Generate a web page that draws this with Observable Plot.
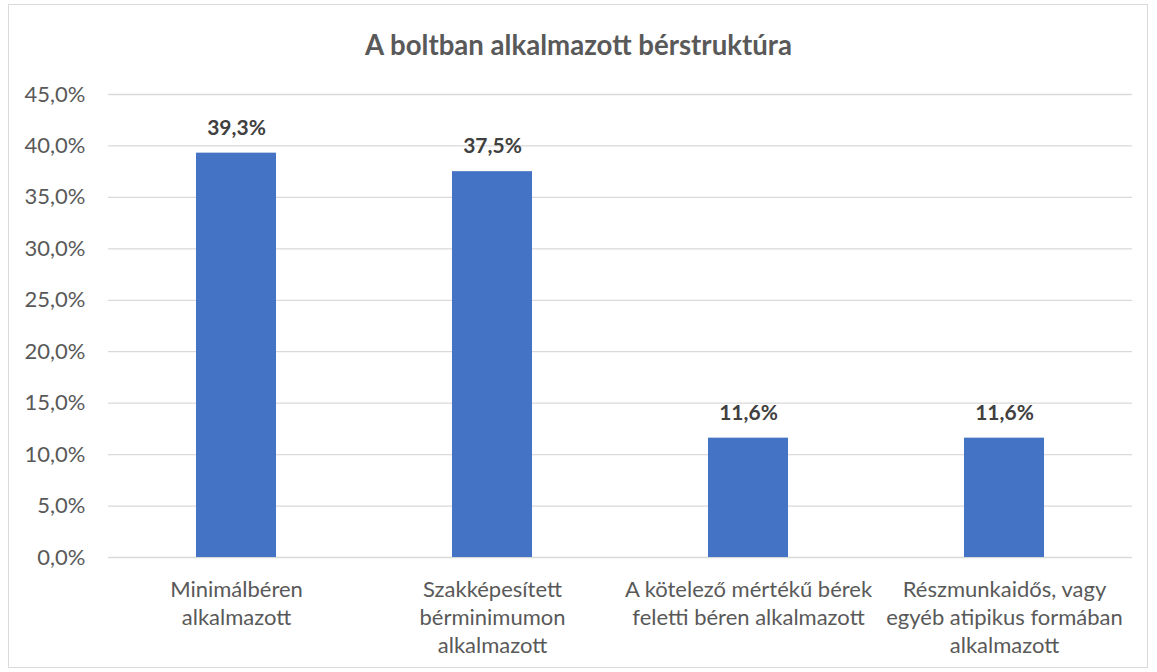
<!DOCTYPE html>
<html>
<head>
<meta charset="utf-8">
<script src="https://cdn.jsdelivr.net/npm/d3@7"></script>
<script src="https://cdn.jsdelivr.net/npm/@observablehq/plot@0.6"></script>
<style>
  html, body { margin: 0; padding: 0; background: #fff; }
  #frame { position: absolute; left: 8px; top: 4px; width: 1140px; height: 664px; border: 1px solid #d9d9d9; box-sizing: border-box; }
  #title { position: absolute; left: 0; top: 30px; width: 1157px; text-align: center; font-family: Lato, "Open Sans", sans-serif; font-weight: bold; font-size: 27.6px; color: #595959; line-height: 30px; }
  #chart { position: absolute; left: 0; top: 60px; }
</style>
</head>
<body>
<div id="frame"></div>
<div id="title">A boltban alkalmazott bérstruktúra</div>
<div id="chart"></div>
<script>
const categories = [
  "Minimálbéren alkalmazott",
  "Szakképesített bérminimumon alkalmazott",
  "A kötelező mértékű bérek feletti béren alkalmazott",
  "Részmunkaidős, vagy egyéb atipikus formában alkalmazott"
];
const tickLabels = [
  "Minimálbéren\nalkalmazott",
  "Szakképesített\nbérminimumon\nalkalmazott",
  "A kötelező mértékű bérek\nfeletti béren alkalmazott",
  "Részmunkaidős, vagy\negyéb atipikus formában\nalkalmazott"
];
const values = [39.3, 37.5, 11.6, 11.6];
const yTicks = [0, 5, 10, 15, 20, 25, 30, 35, 40, 45];

const data = categories.map((c, i) => ({category: c, value: values[i], label: tickLabels[i]}));
const fmt = d => d.toFixed(1).replace(".", ",") + "%";
const labelOf = new Map(categories.map((c, i) => [c, tickLabels[i]]));

const chart = Plot.plot({
  width: 1157,
  height: 612,
  marginTop: 34,
  marginBottom: 115,
  marginLeft: 108,
  marginRight: 25,
  style: { fontFamily: "Lato, 'Open Sans', sans-serif", color: "#595959", background: "transparent" },
  x: { domain: categories, paddingInner: 0.6875, paddingOuter: 0.34375, label: null },
  y: { domain: [0, 45], label: null },
  marks: [
    Plot.gridY(yTicks, { stroke: "#d9d9d9", strokeOpacity: 1, strokeWidth: 1.3 }),
    Plot.axisY(yTicks, { tickSize: 0, tickPadding: 23, tickFormat: fmt, fontSize: 22, fill: "#595959", label: null }),
    Plot.axisX({ tickSize: 0, tickPadding: 19, tickFormat: d => labelOf.get(d), fontSize: 22, fill: "#595959", lineHeight: 1.28, label: null }),
    Plot.barY(data, { x: "category", y: "value", fill: "#4472C4" }),
    Plot.text(data, { x: "category", y: "value", text: d => fmt(d.value), dy: -25, fontSize: 21, fontWeight: "bold", fill: "#404040" })
  ]
});
document.getElementById("chart").appendChild(chart);
</script>
</body>
</html>
